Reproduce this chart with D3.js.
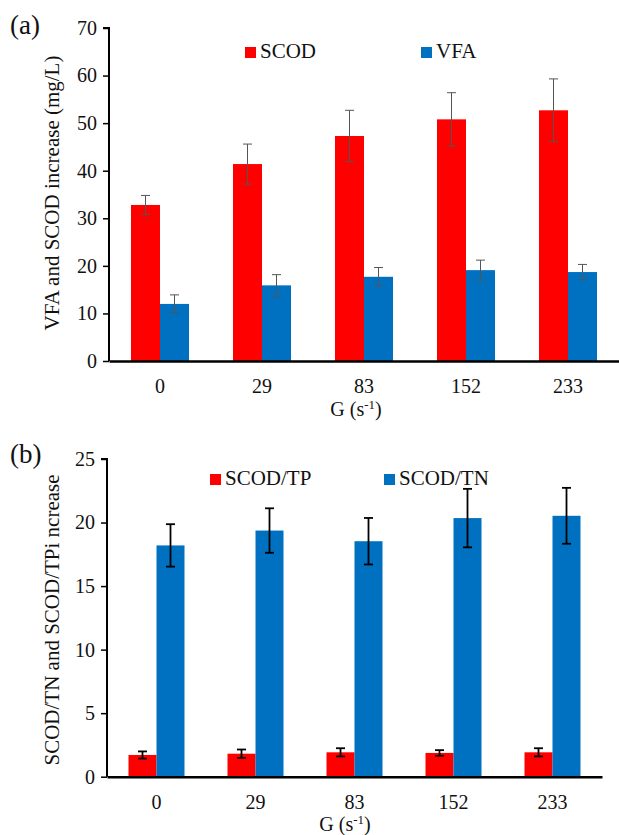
<!DOCTYPE html>
<html>
<head>
<meta charset="utf-8">
<script src="https://cdn.jsdelivr.net/npm/d3@7"></script>
<style>
  body { margin: 0; background: #fff; }
  svg { font-family: "Liberation Serif", "Times New Roman", serif; }
</style>
</head>
<body>
<svg id="chart" width="619" height="835"></svg>
<script>
// shared categories (G, s^-1)
const categories = ["0", "29", "83", "152", "233"];

// panel (a)
const scodVals = [32.8, 41.4, 47.3, 50.8, 52.7];
const scodErr  = [2.0, 4.2, 5.4, 5.6, 6.6];
const vfaVals  = [12.0, 15.9, 17.7, 19.1, 18.7];
const vfaErr   = [1.9, 2.25, 1.95, 2.1, 1.6];
const ticksA   = [0, 10, 20, 30, 40, 50, 60, 70];

// panel (b)
const tpVals = [1.71, 1.81, 1.92, 1.87, 1.92];
const tpErr  = [0.28, 0.33, 0.32, 0.22, 0.32];
const tnVals = [18.2, 19.37, 18.53, 20.35, 20.53];
const tnErr  = [1.67, 1.75, 1.83, 2.3, 2.2];
const ticksB = [0, 5, 10, 15, 20, 25];

const RED = "#ff0000", BLUE = "#0070c0";
const svg = d3.select("#chart");

function panel(opt) {
  const g = svg.append("g");
  const x = d3.scaleBand()
    .domain(categories)
    .range([opt.left, opt.right]);
  const y = d3.scaleLinear()
    .domain(opt.domain)
    .range([opt.bottom, opt.top]);

  const bw = opt.barW;
  const series = [
    {vals: opt.s1, err: opt.e1, color: RED, off: -bw},
    {vals: opt.s2, err: opt.e2, color: BLUE, off: 0}
  ];

  series.forEach(s => {
    const data = categories.map((c, i) => ({c: c, v: s.vals[i], e: s.err[i]}));
    g.append("g").selectAll("rect")
      .data(data)
      .join("rect")
      .attr("x", d => x(d.c) + x.bandwidth() / 2 + s.off)
      .attr("y", d => y(d.v))
      .attr("width", bw)
      .attr("height", d => y(0) - y(d.v))
      .attr("fill", s.color);

    // error bars
    const eb = g.append("g")
      .attr("stroke", opt.errColor)
      .attr("stroke-width", opt.errWidth);
    const cx = d => x(d.c) + x.bandwidth() / 2 + s.off + bw / 2;
    eb.selectAll("line.v").data(data).join("line").attr("class", "v")
      .attr("x1", cx).attr("x2", cx)
      .attr("y1", d => y(d.v + d.e)).attr("y2", d => y(d.v - d.e));
    eb.selectAll("line.t").data(data).join("line").attr("class", "t")
      .attr("x1", d => cx(d) - 4.5).attr("x2", d => cx(d) + 4.5)
      .attr("y1", d => y(d.v + d.e)).attr("y2", d => y(d.v + d.e));
    eb.selectAll("line.b").data(data).join("line").attr("class", "b")
      .attr("x1", d => cx(d) - 4.5).attr("x2", d => cx(d) + 4.5)
      .attr("y1", d => y(d.v - d.e)).attr("y2", d => y(d.v - d.e));
  });

  // axes
  const yAxis = g.append("g")
    .attr("transform", `translate(${opt.left},0)`)
    .call(d3.axisLeft(y).tickValues(opt.ticks).tickSize(6).tickPadding(6));
  yAxis.select(".domain").attr("stroke-width", 2).attr("d", `M-6,${opt.top}H0V${opt.bottom}`);
  yAxis.selectAll(".tick line").attr("stroke-width", 1.5);

  const xAxis = g.append("g")
    .attr("transform", `translate(0,${opt.bottom})`)
    .call(d3.axisBottom(x).tickSize(0).tickPadding(18));
  xAxis.select(".domain").attr("stroke-width", 2.5);

  g.selectAll(".tick text")
    .attr("font-family", "Liberation Serif")
    .attr("font-size", 20)
    .attr("fill", "#111");

  // x title
  const xt = g.append("text")
    .attr("x", opt.xTitleX)
    .attr("y", opt.xTitleY)
    .attr("text-anchor", "middle")
    .attr("font-size", 20)
    .attr("fill", "#111");
  xt.append("tspan").text("G (s");
  xt.append("tspan").text("-1").attr("font-size", 13).attr("dy", -7);
  xt.append("tspan").text(")").attr("dy", 7);

  // y title
  g.append("text")
    .attr("transform", `translate(${opt.yTitleX},${opt.yTitleY}) rotate(-90)`)
    .attr("text-anchor", "middle")
    .attr("font-size", 21)
    .attr("fill", "#111")
    .text(opt.yTitle);

  // panel label
  g.append("text")
    .attr("x", 10).attr("y", opt.labelY)
    .attr("font-size", 27)
    .attr("fill", "#111")
    .text(opt.label);

  // legend
  opt.legend.forEach(l => {
    g.append("rect")
      .attr("x", l.x).attr("y", l.y - 11)
      .attr("width", 11).attr("height", 11)
      .attr("fill", l.color);
    g.append("text")
      .attr("x", l.x + 15).attr("y", l.y)
      .attr("font-size", 21)
      .attr("fill", "#111")
      .text(l.name);
  });
}

panel({
  left: 109, right: 619, top: 28, bottom: 361,
  domain: [0, 70], ticks: ticksA, barW: 29,
  s1: scodVals, e1: scodErr, s2: vfaVals, e2: vfaErr,
  errColor: "#555", errWidth: 1,
  xTitleX: 356, xTitleY: 416,
  yTitle: "VFA and SCOD increase (mg/L)", yTitleX: 59, yTitleY: 193,
  label: "(a)", labelY: 34,
  legend: [
    {name: "SCOD", color: RED, x: 245, y: 58},
    {name: "VFA", color: BLUE, x: 421, y: 58}
  ]
});

panel({
  left: 107, right: 602, top: 459, bottom: 776.7,
  domain: [0, 25], ticks: ticksB, barW: 28,
  s1: tpVals, e1: tpErr, s2: tnVals, e2: tnErr,
  errColor: "#000", errWidth: 1.8,
  xTitleX: 345, xTitleY: 831,
  yTitle: "SCOD/TN and SCOD/TPi ncrease", yTitleX: 59, yTitleY: 620,
  label: "(b)", labelY: 463,
  legend: [
    {name: "SCOD/TP", color: RED, x: 210, y: 485},
    {name: "SCOD/TN", color: BLUE, x: 384, y: 485}
  ]
});
</script>
</body>
</html>
